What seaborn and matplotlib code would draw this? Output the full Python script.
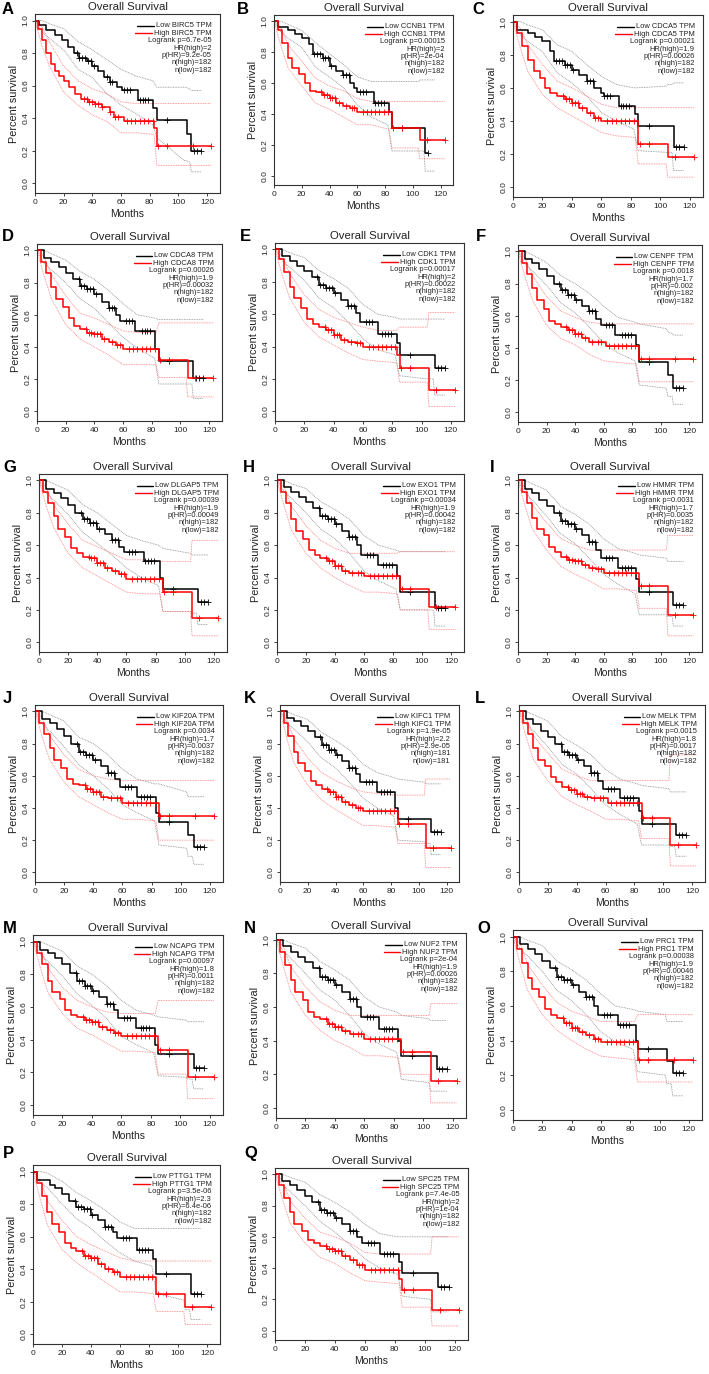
import numpy as np
import matplotlib
matplotlib.use("Agg")
import matplotlib.pyplot as plt
import seaborn as sns
from matplotlib.lines import Line2D
from matplotlib.offsetbox import AnchoredOffsetbox, VPacker, HPacker, TextArea, DrawingArea

# panel info
panel_letters = list("ABCDEFGHIJKLMNOPQ")
genes = ["BIRC5", "CCNB1", "CDCA5", "CDCA8", "CDK1", "CENPF", "DLGAP5", "EXO1", "HMMR",
         "KIF20A", "KIFC1", "MELK", "NCAPG", "NUF2", "PRC1", "PTTG1", "SPC25"]
logrank_p = ["6.7e-05", "0.00015", "0.00021", "0.00026", "0.00017", "0.0018", "0.00039", "0.00034", "0.0031",
             "0.0034", "1.9e-05", "0.0015", "0.00097", "2e-04", "0.00038", "3.5e-06", "7.4e-05"]
hr_high = ["2", "2", "1.9", "1.9", "2", "1.7", "1.9", "1.9", "1.7",
           "1.7", "2.2", "1.8", "1.8", "1.9", "1.9", "2.3", "2"]
p_hr = ["9.2e-05", "2e-04", "0.00026", "0.00032", "0.00022", "0.002", "0.00049", "0.00042", "0.0035",
        "0.0037", "2.9e-05", "0.0017", "0.0011", "0.00026", "0.00046", "6.4e-06", "1e-04"]
n_high = [182] * 10 + [181] + [182] * 6
n_low = [182] * 10 + [181] + [182] * 6

# Kaplan-Meier curves (step knots, months / survival)
low_t = [
    [0, 3, 8, 14, 19, 23, 27, 31, 36, 40, 44, 48, 52, 57, 61, 72, 82, 85, 106, 109, 116],
    [0, 3, 10, 15, 20, 25, 28, 35, 40, 45, 50, 55, 58, 60, 72, 83, 85, 109, 111],
    [0, 3, 10, 15, 20, 25, 28, 35, 40, 45, 50, 55, 60, 62, 72, 83, 85, 109, 116],
    [0, 5, 10, 15, 20, 25, 30, 35, 40, 45, 50, 55, 58, 68, 82, 85, 109, 116],
    [0, 5, 10, 15, 20, 25, 30, 35, 40, 45, 50, 55, 58, 70, 83, 85, 109, 116],
    [0, 5, 10, 15, 20, 25, 30, 35, 40, 45, 50, 55, 58, 68, 83, 85, 105, 109, 116],
    [0, 5, 10, 15, 20, 25, 30, 35, 40, 45, 50, 55, 58, 72, 83, 85, 109, 116],
    [0, 5, 10, 15, 20, 25, 30, 35, 40, 45, 50, 55, 58, 70, 83, 85, 109, 116],
    [0, 5, 10, 15, 20, 25, 30, 35, 40, 45, 50, 55, 58, 70, 83, 85, 109, 116],
    [0, 5, 10, 15, 20, 25, 30, 35, 40, 45, 50, 55, 58, 70, 83, 85, 105, 109, 116],
    [0, 5, 10, 15, 20, 25, 30, 35, 40, 45, 50, 55, 58, 70, 83, 85, 109, 116],
    [0, 5, 10, 15, 20, 25, 30, 35, 40, 45, 50, 55, 58, 70, 83, 85, 109, 116],
    [0, 5, 10, 15, 20, 25, 30, 35, 40, 45, 50, 55, 58, 70, 83, 85, 109, 116],
    [0, 5, 10, 15, 20, 25, 30, 35, 40, 45, 50, 55, 58, 70, 83, 85, 109, 116],
    [0, 5, 10, 15, 20, 25, 30, 35, 40, 45, 50, 55, 58, 72, 84, 85, 105, 109, 116],
    [0, 3, 12, 15, 20, 25, 30, 35, 40, 45, 50, 55, 58, 72, 83, 85, 109, 116],
    [0, 5, 10, 15, 20, 25, 30, 35, 40, 45, 50, 55, 58, 70, 83, 85, 109, 116],
]
low_s = [
    [1.0, 0.97, 0.94, 0.91, 0.88, 0.84, 0.80, 0.77, 0.75, 0.72, 0.69, 0.65, 0.62, 0.59, 0.57, 0.51, 0.46, 0.39, 0.30, 0.20, 0.20],
    [1.0, 0.96, 0.94, 0.92, 0.89, 0.85, 0.79, 0.76, 0.71, 0.68, 0.65, 0.60, 0.57, 0.54, 0.47, 0.41, 0.31, 0.15, 0.15],
    [1.0, 0.95, 0.93, 0.91, 0.88, 0.82, 0.76, 0.74, 0.71, 0.68, 0.64, 0.60, 0.57, 0.55, 0.49, 0.44, 0.37, 0.24, 0.24],
    [1.0, 0.95, 0.93, 0.90, 0.86, 0.82, 0.78, 0.76, 0.73, 0.68, 0.64, 0.60, 0.56, 0.50, 0.39, 0.31, 0.21, 0.21],
    [1.0, 0.96, 0.93, 0.90, 0.87, 0.83, 0.78, 0.76, 0.73, 0.69, 0.65, 0.61, 0.55, 0.48, 0.42, 0.35, 0.27, 0.27],
    [1.0, 0.95, 0.93, 0.89, 0.85, 0.80, 0.76, 0.73, 0.70, 0.66, 0.63, 0.58, 0.54, 0.48, 0.42, 0.31, 0.23, 0.15, 0.15],
    [1.0, 0.95, 0.92, 0.89, 0.85, 0.80, 0.76, 0.74, 0.70, 0.67, 0.63, 0.59, 0.56, 0.50, 0.40, 0.33, 0.25, 0.25],
    [1.0, 0.96, 0.93, 0.90, 0.87, 0.83, 0.78, 0.76, 0.73, 0.69, 0.65, 0.60, 0.54, 0.48, 0.41, 0.31, 0.21, 0.21],
    [1.0, 0.95, 0.92, 0.88, 0.84, 0.80, 0.75, 0.73, 0.70, 0.66, 0.62, 0.57, 0.52, 0.46, 0.39, 0.31, 0.23, 0.23],
    [1.0, 0.95, 0.93, 0.89, 0.85, 0.80, 0.75, 0.73, 0.70, 0.66, 0.62, 0.58, 0.53, 0.47, 0.37, 0.31, 0.23, 0.16, 0.16],
    [1.0, 0.96, 0.94, 0.91, 0.88, 0.84, 0.79, 0.76, 0.73, 0.69, 0.65, 0.61, 0.56, 0.50, 0.40, 0.33, 0.25, 0.25],
    [1.0, 0.95, 0.92, 0.88, 0.84, 0.80, 0.75, 0.73, 0.70, 0.66, 0.62, 0.57, 0.52, 0.46, 0.38, 0.30, 0.23, 0.23],
    [1.0, 0.95, 0.93, 0.90, 0.86, 0.81, 0.76, 0.73, 0.70, 0.66, 0.62, 0.58, 0.53, 0.47, 0.37, 0.31, 0.23, 0.23],
    [1.0, 0.96, 0.93, 0.90, 0.87, 0.83, 0.78, 0.76, 0.73, 0.69, 0.65, 0.60, 0.54, 0.47, 0.40, 0.31, 0.23, 0.23],
    [1.0, 0.96, 0.93, 0.90, 0.86, 0.82, 0.77, 0.75, 0.72, 0.68, 0.65, 0.60, 0.55, 0.49, 0.40, 0.35, 0.28, 0.21, 0.21],
    [1.0, 0.95, 0.92, 0.90, 0.86, 0.82, 0.78, 0.77, 0.73, 0.70, 0.66, 0.63, 0.59, 0.52, 0.46, 0.37, 0.25, 0.25],
    [1.0, 0.96, 0.93, 0.90, 0.86, 0.82, 0.77, 0.75, 0.72, 0.68, 0.64, 0.60, 0.56, 0.49, 0.44, 0.37, 0.28, 0.28],
]
high_t = [
    [0, 2, 5, 8, 11, 14, 17, 20, 24, 28, 32, 37, 42, 47, 52, 55, 62, 83, 85, 123],
    [0, 3, 6, 10, 13, 18, 22, 26, 30, 35, 40, 45, 50, 55, 60, 85, 105, 123],
    [0, 3, 6, 10, 14, 18, 22, 25, 30, 35, 40, 45, 50, 55, 60, 85, 105, 123],
    [0, 3, 6, 10, 13, 18, 22, 26, 30, 35, 40, 45, 50, 55, 60, 85, 105, 123],
    [0, 3, 6, 10, 13, 18, 22, 26, 30, 35, 40, 45, 50, 55, 60, 83, 85, 105, 123],
    [0, 3, 6, 10, 13, 18, 22, 26, 30, 35, 40, 45, 50, 62, 85, 123],
    [0, 3, 6, 10, 13, 18, 22, 26, 30, 35, 40, 45, 50, 55, 60, 85, 105, 123],
    [0, 3, 6, 10, 13, 18, 22, 26, 30, 35, 40, 45, 50, 60, 85, 105, 123],
    [0, 3, 6, 10, 13, 18, 22, 26, 30, 35, 40, 45, 50, 55, 60, 85, 105, 123],
    [0, 3, 6, 10, 13, 18, 22, 26, 30, 35, 40, 45, 50, 60, 85, 123],
    [0, 3, 6, 10, 13, 18, 22, 26, 30, 35, 40, 45, 50, 55, 60, 85, 105, 123],
    [0, 3, 6, 10, 13, 18, 22, 26, 30, 35, 40, 45, 50, 62, 85, 105, 123],
    [0, 3, 6, 10, 13, 18, 22, 26, 30, 35, 40, 45, 50, 55, 60, 85, 105, 123],
    [0, 3, 6, 10, 13, 18, 22, 26, 30, 35, 40, 45, 50, 60, 85, 105, 123],
    [0, 3, 6, 10, 13, 18, 22, 26, 30, 35, 40, 45, 50, 55, 60, 85, 123],
    [0, 3, 6, 10, 13, 18, 22, 26, 30, 35, 40, 45, 50, 55, 60, 85, 105, 123],
    [0, 3, 6, 10, 13, 18, 22, 26, 30, 35, 40, 45, 50, 55, 60, 83, 85, 105, 123],
]
high_s = [
    [1.0, 0.95, 0.88, 0.80, 0.73, 0.69, 0.66, 0.63, 0.59, 0.55, 0.52, 0.50, 0.49, 0.47, 0.44, 0.41, 0.38, 0.34, 0.23, 0.23],
    [1.0, 0.94, 0.86, 0.76, 0.70, 0.66, 0.60, 0.55, 0.54, 0.52, 0.50, 0.47, 0.45, 0.44, 0.41, 0.31, 0.23, 0.23],
    [1.0, 0.93, 0.85, 0.77, 0.70, 0.66, 0.60, 0.57, 0.55, 0.53, 0.51, 0.48, 0.45, 0.42, 0.40, 0.26, 0.18, 0.18],
    [1.0, 0.93, 0.86, 0.77, 0.70, 0.65, 0.58, 0.53, 0.51, 0.49, 0.48, 0.45, 0.43, 0.41, 0.39, 0.32, 0.21, 0.21],
    [1.0, 0.94, 0.86, 0.77, 0.70, 0.64, 0.57, 0.54, 0.52, 0.50, 0.47, 0.44, 0.43, 0.42, 0.40, 0.35, 0.27, 0.13, 0.13],
    [1.0, 0.93, 0.86, 0.77, 0.70, 0.64, 0.57, 0.55, 0.53, 0.51, 0.49, 0.46, 0.44, 0.41, 0.33, 0.33],
    [1.0, 0.93, 0.86, 0.78, 0.70, 0.65, 0.58, 0.55, 0.53, 0.52, 0.49, 0.46, 0.44, 0.42, 0.39, 0.31, 0.15, 0.15],
    [1.0, 0.93, 0.86, 0.76, 0.69, 0.64, 0.57, 0.54, 0.52, 0.50, 0.47, 0.44, 0.43, 0.41, 0.33, 0.22, 0.22],
    [1.0, 0.93, 0.86, 0.77, 0.70, 0.66, 0.59, 0.56, 0.53, 0.51, 0.50, 0.48, 0.46, 0.45, 0.43, 0.35, 0.17, 0.17],
    [1.0, 0.93, 0.86, 0.77, 0.70, 0.65, 0.58, 0.55, 0.54, 0.52, 0.50, 0.47, 0.46, 0.43, 0.35, 0.35],
    [1.0, 0.93, 0.85, 0.75, 0.68, 0.63, 0.57, 0.54, 0.52, 0.50, 0.47, 0.44, 0.42, 0.40, 0.38, 0.30, 0.15, 0.15],
    [1.0, 0.93, 0.86, 0.77, 0.70, 0.66, 0.59, 0.56, 0.53, 0.51, 0.49, 0.47, 0.46, 0.43, 0.34, 0.17, 0.17],
    [1.0, 0.93, 0.86, 0.76, 0.69, 0.65, 0.58, 0.55, 0.54, 0.52, 0.51, 0.48, 0.46, 0.44, 0.42, 0.34, 0.17, 0.17],
    [1.0, 0.93, 0.85, 0.76, 0.69, 0.64, 0.57, 0.54, 0.53, 0.50, 0.48, 0.46, 0.44, 0.41, 0.33, 0.16, 0.16],
    [1.0, 0.93, 0.85, 0.76, 0.70, 0.65, 0.58, 0.55, 0.53, 0.50, 0.47, 0.45, 0.43, 0.41, 0.39, 0.29, 0.29],
    [1.0, 0.93, 0.85, 0.75, 0.68, 0.63, 0.56, 0.53, 0.51, 0.48, 0.47, 0.43, 0.40, 0.38, 0.35, 0.25, 0.17, 0.17],
    [1.0, 0.93, 0.85, 0.76, 0.68, 0.64, 0.58, 0.56, 0.54, 0.52, 0.51, 0.48, 0.45, 0.42, 0.39, 0.33, 0.26, 0.13, 0.13],
]

# 95% confidence bounds (dotted), read at these months
ci_low_t = [0, 5, 10, 20, 30, 40, 50, 60, 70, 82, 85, 104, 105, 108, 109, 116]
ci_high_t = [0, 5, 10, 20, 30, 40, 50, 60, 70, 83, 85, 104, 105, 123]
ci_low_up = [
    [1.0, 1.0, 0.98, 0.95, 0.87, 0.82, 0.76, 0.70, 0.66, 0.63, 0.59, 0.59, 0.59, 0.58, 0.57, 0.57],
    [1.0, 1.0, 0.98, 0.94, 0.86, 0.79, 0.72, 0.64, 0.61, 0.61, 0.61, 0.61, 0.62, 0.62, 0.62, 0.62],
    [1.0, 1.0, 0.98, 0.95, 0.86, 0.82, 0.74, 0.67, 0.62, 0.60, 0.60, 0.61, 0.62, 0.62, 0.63, 0.63],
    [1.0, 1.0, 0.98, 0.94, 0.87, 0.82, 0.75, 0.67, 0.60, 0.58, 0.57, 0.57, 0.57, 0.57, 0.57, 0.57],
    [1.0, 1.0, 0.98, 0.95, 0.87, 0.82, 0.76, 0.66, 0.60, 0.58, 0.57, 0.57, 0.57, 0.57, 0.57, 0.57],
    [1.0, 1.0, 0.98, 0.93, 0.85, 0.80, 0.74, 0.66, 0.59, 0.56, 0.55, 0.52, 0.50, 0.49, 0.48, 0.48],
    [1.0, 1.0, 0.98, 0.94, 0.85, 0.80, 0.73, 0.66, 0.63, 0.60, 0.58, 0.55, 0.54, 0.54, 0.54, 0.54],
    [1.0, 1.0, 0.98, 0.95, 0.87, 0.82, 0.76, 0.66, 0.60, 0.57, 0.56, 0.56, 0.56, 0.56, 0.56, 0.56],
    [1.0, 1.0, 0.98, 0.94, 0.84, 0.79, 0.73, 0.64, 0.58, 0.55, 0.54, 0.52, 0.50, 0.50, 0.50, 0.50],
    [1.0, 1.0, 0.98, 0.94, 0.84, 0.80, 0.73, 0.64, 0.58, 0.55, 0.55, 0.50, 0.47, 0.47, 0.47, 0.47],
    [1.0, 1.0, 0.98, 0.95, 0.87, 0.82, 0.76, 0.67, 0.62, 0.59, 0.58, 0.56, 0.55, 0.55, 0.55, 0.55],
    [1.0, 1.0, 0.98, 0.94, 0.84, 0.79, 0.73, 0.64, 0.58, 0.55, 0.54, 0.52, 0.50, 0.50, 0.50, 0.50],
    [1.0, 1.0, 0.98, 0.94, 0.85, 0.80, 0.73, 0.64, 0.58, 0.55, 0.54, 0.52, 0.51, 0.51, 0.51, 0.51],
    [1.0, 1.0, 0.98, 0.95, 0.87, 0.82, 0.76, 0.66, 0.60, 0.57, 0.55, 0.53, 0.52, 0.52, 0.52, 0.52],
    [1.0, 1.0, 0.98, 0.95, 0.86, 0.81, 0.75, 0.67, 0.60, 0.58, 0.57, 0.55, 0.51, 0.51, 0.51, 0.51],
    [1.0, 1.0, 0.99, 0.94, 0.87, 0.82, 0.76, 0.69, 0.65, 0.65, 0.65, 0.65, 0.65, 0.65, 0.65, 0.65],
    [1.0, 1.0, 0.98, 0.95, 0.87, 0.82, 0.76, 0.68, 0.62, 0.60, 0.60, 0.60, 0.60, 0.60, 0.60, 0.60],
]
ci_low_lo = [
    [1.0, 0.93, 0.89, 0.82, 0.70, 0.65, 0.55, 0.48, 0.43, 0.36, 0.28, 0.14, 0.14, 0.13, 0.07, 0.07],
    [1.0, 0.93, 0.89, 0.83, 0.70, 0.64, 0.57, 0.46, 0.38, 0.33, 0.16, 0.16, 0.16, 0.16, 0.03, 0.03],
    [1.0, 0.92, 0.88, 0.82, 0.69, 0.63, 0.55, 0.45, 0.40, 0.35, 0.22, 0.21, 0.21, 0.21, 0.10, 0.10],
    [1.0, 0.92, 0.88, 0.80, 0.70, 0.64, 0.55, 0.46, 0.39, 0.33, 0.17, 0.17, 0.17, 0.17, 0.08, 0.08],
    [1.0, 0.93, 0.89, 0.81, 0.70, 0.64, 0.55, 0.45, 0.38, 0.35, 0.22, 0.20, 0.20, 0.20, 0.10, 0.10],
    [1.0, 0.92, 0.88, 0.79, 0.68, 0.62, 0.53, 0.43, 0.37, 0.32, 0.17, 0.15, 0.10, 0.10, 0.05, 0.05],
    [1.0, 0.92, 0.88, 0.79, 0.68, 0.61, 0.54, 0.46, 0.40, 0.35, 0.19, 0.19, 0.18, 0.18, 0.11, 0.11],
    [1.0, 0.93, 0.89, 0.80, 0.70, 0.64, 0.55, 0.44, 0.38, 0.33, 0.20, 0.20, 0.20, 0.20, 0.10, 0.10],
    [1.0, 0.92, 0.88, 0.78, 0.67, 0.61, 0.52, 0.42, 0.36, 0.30, 0.17, 0.17, 0.16, 0.16, 0.10, 0.10],
    [1.0, 0.92, 0.88, 0.78, 0.67, 0.60, 0.52, 0.42, 0.37, 0.32, 0.17, 0.15, 0.10, 0.10, 0.05, 0.05],
    [1.0, 0.93, 0.89, 0.81, 0.71, 0.65, 0.56, 0.46, 0.40, 0.35, 0.20, 0.19, 0.18, 0.18, 0.11, 0.11],
    [1.0, 0.92, 0.88, 0.78, 0.67, 0.61, 0.52, 0.42, 0.36, 0.30, 0.17, 0.17, 0.16, 0.16, 0.10, 0.10],
    [1.0, 0.92, 0.88, 0.79, 0.68, 0.61, 0.53, 0.42, 0.37, 0.32, 0.18, 0.17, 0.16, 0.16, 0.10, 0.10],
    [1.0, 0.93, 0.89, 0.80, 0.70, 0.64, 0.55, 0.44, 0.38, 0.33, 0.17, 0.15, 0.10, 0.10, 0.10, 0.10],
    [1.0, 0.93, 0.89, 0.80, 0.69, 0.63, 0.55, 0.45, 0.39, 0.35, 0.22, 0.20, 0.15, 0.15, 0.08, 0.08],
    [1.0, 0.93, 0.90, 0.80, 0.71, 0.65, 0.57, 0.50, 0.45, 0.42, 0.25, 0.21, 0.15, 0.15, 0.09, 0.09],
    [1.0, 0.93, 0.89, 0.80, 0.70, 0.63, 0.55, 0.46, 0.40, 0.36, 0.22, 0.20, 0.12, 0.12, 0.12, 0.12],
]
ci_high_up = [
    [1.0, 0.96, 0.87, 0.72, 0.63, 0.58, 0.55, 0.50, 0.49, 0.49, 0.49, 0.49, 0.49, 0.49],
    [1.0, 0.96, 0.85, 0.74, 0.63, 0.58, 0.55, 0.50, 0.48, 0.48, 0.48, 0.48, 0.48, 0.48],
    [1.0, 0.96, 0.86, 0.74, 0.64, 0.60, 0.55, 0.50, 0.48, 0.48, 0.48, 0.48, 0.48, 0.48],
    [1.0, 0.96, 0.85, 0.72, 0.61, 0.58, 0.54, 0.50, 0.49, 0.49, 0.55, 0.55, 0.55, 0.55],
    [1.0, 0.96, 0.85, 0.72, 0.63, 0.58, 0.55, 0.52, 0.50, 0.50, 0.52, 0.52, 0.61, 0.61],
    [1.0, 0.96, 0.85, 0.72, 0.63, 0.59, 0.56, 0.55, 0.55, 0.55, 0.55, 0.55, 0.55, 0.55],
    [1.0, 0.96, 0.85, 0.73, 0.63, 0.59, 0.55, 0.51, 0.51, 0.50, 0.50, 0.50, 0.63, 0.63],
    [1.0, 0.96, 0.84, 0.72, 0.63, 0.58, 0.55, 0.55, 0.55, 0.55, 0.56, 0.56, 0.56, 0.56],
    [1.0, 0.96, 0.85, 0.74, 0.64, 0.60, 0.57, 0.57, 0.57, 0.57, 0.57, 0.57, 0.66, 0.66],
    [1.0, 0.96, 0.85, 0.73, 0.64, 0.60, 0.58, 0.57, 0.57, 0.57, 0.57, 0.57, 0.57, 0.57],
    [1.0, 0.95, 0.83, 0.71, 0.62, 0.57, 0.53, 0.50, 0.49, 0.48, 0.48, 0.48, 0.58, 0.58],
    [1.0, 0.96, 0.85, 0.74, 0.64, 0.60, 0.57, 0.57, 0.57, 0.57, 0.57, 0.57, 0.73, 0.73],
    [1.0, 0.96, 0.84, 0.72, 0.64, 0.60, 0.57, 0.56, 0.56, 0.56, 0.64, 0.64, 0.64, 0.64],
    [1.0, 0.96, 0.84, 0.72, 0.63, 0.58, 0.55, 0.55, 0.55, 0.55, 0.55, 0.55, 0.62, 0.62],
    [1.0, 0.96, 0.84, 0.72, 0.62, 0.57, 0.54, 0.51, 0.51, 0.51, 0.55, 0.55, 0.55, 0.55],
    [1.0, 0.95, 0.82, 0.70, 0.60, 0.55, 0.51, 0.47, 0.45, 0.45, 0.45, 0.45, 0.45, 0.45],
    [1.0, 0.96, 0.83, 0.72, 0.63, 0.60, 0.56, 0.50, 0.49, 0.49, 0.49, 0.49, 0.60, 0.60],
]
ci_high_lo = [
    [1.0, 0.84, 0.72, 0.56, 0.48, 0.42, 0.38, 0.31, 0.31, 0.30, 0.11, 0.11, 0.11, 0.11],
    [1.0, 0.84, 0.70, 0.58, 0.47, 0.43, 0.38, 0.33, 0.33, 0.30, 0.18, 0.18, 0.11, 0.11],
    [1.0, 0.84, 0.70, 0.56, 0.48, 0.43, 0.38, 0.33, 0.31, 0.30, 0.14, 0.14, 0.06, 0.06],
    [1.0, 0.84, 0.70, 0.54, 0.45, 0.40, 0.35, 0.29, 0.29, 0.29, 0.21, 0.21, 0.09, 0.09],
    [1.0, 0.84, 0.70, 0.55, 0.46, 0.41, 0.36, 0.32, 0.31, 0.30, 0.18, 0.18, 0.03, 0.03],
    [1.0, 0.84, 0.70, 0.54, 0.46, 0.42, 0.36, 0.32, 0.31, 0.30, 0.19, 0.19, 0.19, 0.19],
    [1.0, 0.84, 0.71, 0.55, 0.46, 0.41, 0.36, 0.31, 0.30, 0.30, 0.19, 0.19, 0.04, 0.04],
    [1.0, 0.84, 0.69, 0.55, 0.46, 0.40, 0.35, 0.31, 0.31, 0.30, 0.20, 0.20, 0.08, 0.08],
    [1.0, 0.84, 0.70, 0.57, 0.47, 0.42, 0.38, 0.33, 0.33, 0.32, 0.21, 0.21, 0.04, 0.04],
    [1.0, 0.84, 0.70, 0.56, 0.47, 0.42, 0.37, 0.33, 0.33, 0.32, 0.20, 0.20, 0.20, 0.20],
    [1.0, 0.83, 0.68, 0.54, 0.45, 0.39, 0.34, 0.29, 0.29, 0.28, 0.18, 0.18, 0.03, 0.03],
    [1.0, 0.84, 0.70, 0.57, 0.47, 0.42, 0.38, 0.33, 0.33, 0.32, 0.21, 0.21, 0.04, 0.04],
    [1.0, 0.84, 0.69, 0.56, 0.47, 0.43, 0.38, 0.33, 0.33, 0.32, 0.19, 0.19, 0.04, 0.04],
    [1.0, 0.84, 0.69, 0.55, 0.46, 0.40, 0.36, 0.31, 0.31, 0.30, 0.20, 0.20, 0.03, 0.03],
    [1.0, 0.84, 0.69, 0.55, 0.46, 0.40, 0.35, 0.31, 0.30, 0.29, 0.16, 0.16, 0.16, 0.16],
    [1.0, 0.83, 0.67, 0.52, 0.44, 0.38, 0.32, 0.26, 0.26, 0.25, 0.14, 0.14, 0.06, 0.06],
    [1.0, 0.84, 0.69, 0.56, 0.47, 0.43, 0.37, 0.32, 0.31, 0.30, 0.15, 0.15, 0.03, 0.03],
]

# censored times (months)
censor_low_t = [29, 31, 33, 35, 37, 39, 41, 50, 52, 54, 62, 64, 66, 73, 75, 77, 79, 92, 111, 113, 116]
censor_high_t = [34, 36, 38, 40, 42, 44, 47, 52, 56, 58, 64, 67, 70, 73, 76, 79, 82, 86, 92, 110, 123]

# layout: axes box (left, top, right, bottom) in pixels, letter position
boxes = [
    (35, 14, 220, 193), (274, 15, 453, 185), (513, 15, 703, 197),
    (37, 244, 222, 421), (275, 243, 464, 421), (518, 245, 702, 422),
    (39, 474, 227, 652), (277, 474, 464, 652), (518, 474, 702, 652),
    (35, 705, 223, 882), (280, 705, 459, 882), (519, 705, 705, 882),
    (33, 935, 223, 1115), (276, 933, 466, 1118), (513, 930, 702, 1120),
    (33, 1165, 220, 1344), (275, 1168, 468, 1340),
]
letter_xy = [
    (2, 2), (237, 2), (472, 2),
    (2, 229), (240, 229), (476, 229),
    (3, 460), (243, 460), (490, 460),
    (3, 691), (244, 691), (475, 691),
    (3, 921), (244, 921), (477, 921),
    (3, 1146), (244, 1146),
]

W, H = 709, 1374
LEG_FS = 5.4
BOX_COL = "#333333"

sns.set_theme(style="ticks")
plt.rcParams['font.family'] = ['Liberation Sans', 'DejaVu Sans']


def step_value(t, s, x):
    idx = np.searchsorted(t, x, side='right') - 1
    return s[idx]


def add_legend(ax, gene, stats):
    rows = []
    for color, label in [("black", "Low " + gene + " TPM"), ("red", "High " + gene + " TPM")]:
        da = DrawingArea(12, 4, 0, 0)
        da.add_artist(Line2D([0, 12], [2, 2], color=color, lw=1.0))
        ta = TextArea(label, textprops=dict(fontsize=LEG_FS, color="#222222"))
        rows.append(HPacker(children=[da, ta], align="center", pad=0, sep=1.5))
    for s in stats:
        rows.append(TextArea(s, textprops=dict(fontsize=LEG_FS, color="#222222")))
    vbox = VPacker(children=rows, align="right", pad=0, sep=0.3)
    anchored = AnchoredOffsetbox(loc="upper right", child=vbox, pad=0.1, borderpad=0.45, frameon=False)
    ax.add_artist(anchored)


fig = plt.figure(figsize=(W / 100, H / 100), dpi=100)

for i in range(len(genes)):
    l, t, r, b = boxes[i]
    ax = fig.add_axes([l / W, 1 - b / H, (r - l) / W, (b - t) / H])

    # confidence bounds
    for ys in (ci_low_up[i], ci_low_lo[i]):
        sns.lineplot(x=ci_low_t, y=ys, color="#8a8a8a", lw=0.6, linestyle=(0, (1, 1)),
                     estimator=None, sort=False, ax=ax)
    for ys in (ci_high_up[i], ci_high_lo[i]):
        sns.lineplot(x=ci_high_t, y=ys, color="#ff7a7a", lw=0.6, linestyle=(0, (1, 1)),
                     estimator=None, sort=False, ax=ax)

    # survival curves
    sns.lineplot(x=low_t[i], y=low_s[i], color="black", lw=1.1, drawstyle="steps-post",
                 estimator=None, sort=False, ax=ax)
    sns.lineplot(x=high_t[i], y=high_s[i], color="red", lw=1.1, drawstyle="steps-post",
                 estimator=None, sort=False, ax=ax)

    # censor marks
    cl = [c for c in censor_low_t if c <= low_t[i][-1]]
    ch = [c for c in censor_high_t if c <= high_t[i][-1]]
    sns.scatterplot(x=cl, y=[step_value(low_t[i], low_s[i], c) for c in cl], marker="+",
                    s=18, color="black", linewidth=0.6, ax=ax, zorder=3)
    sns.scatterplot(x=ch, y=[step_value(high_t[i], high_s[i], c) for c in ch], marker="+",
                    s=18, color="red", linewidth=0.6, ax=ax, zorder=3)

    ax.set_xlim(0, 129)
    ax.set_ylim(-0.06, 1.04)
    ax.set_xticks([0, 20, 40, 60, 80, 100, 120])
    ax.set_yticks([0, 0.2, 0.4, 0.6, 0.8, 1.0])
    ax.set_yticklabels(["0.0", "0.2", "0.4", "0.6", "0.8", "1.0"])
    ax.tick_params(labelsize=6, length=2.2, width=0.6, pad=2, colors="#222222")
    for lab in ax.get_yticklabels():
        lab.set_rotation(90)
        lab.set_va("center")
    for sp in ax.spines.values():
        sp.set_color(BOX_COL)
        sp.set_linewidth(0.8)
    ax.set_xlabel("Months", fontsize=7.5, labelpad=2, color="#222222")
    ax.set_ylabel("Percent survival", fontsize=7.8, labelpad=2, color="#222222")
    ax.set_title("Overall Survival", fontsize=8.2, pad=3, color="#222222")

    stats = ["Logrank p=" + logrank_p[i], "HR(high)=" + hr_high[i], "p(HR)=" + p_hr[i],
             "n(high)=" + str(n_high[i]), "n(low)=" + str(n_low[i])]
    add_legend(ax, genes[i], stats)

    lx, ly = letter_xy[i]
    fig.text(lx / W, 1 - ly / H, panel_letters[i], fontsize=12, fontweight="bold",
             ha="left", va="top", color="black")

fig.savefig("out.png", dpi=100)
